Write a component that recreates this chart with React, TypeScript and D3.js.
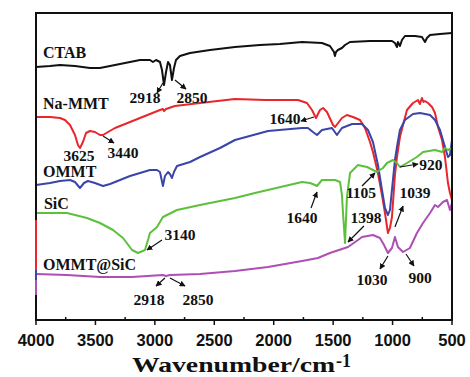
import React from "react";
import * as d3 from "d3";

// wavenumber (cm^-1), transmittance (a.u., offset for stacking)
const ctab: [number, number][] = [
  [4000, 253], [3882, 254], [3798, 255], [3672, 254], [3546, 252], [3462, 252], [3377, 254], [3251, 257],
  [3125, 260], [3041, 260], [3016, 258], [2990, 260], [2957, 258], [2940, 250], [2923, 235], [2906, 248],
  [2889, 258], [2873, 255], [2856, 240], [2839, 252], [2822, 260], [2789, 264], [2704, 267], [2536, 270],
  [2326, 273], [2116, 275], [1948, 276], [1762, 278], [1594, 277], [1527, 274], [1493, 268], [1485, 264],
  [1476, 268], [1460, 270], [1426, 272], [1400, 275], [1358, 278], [1190, 279], [1005, 279], [980, 277],
  [963, 273], [955, 278], [938, 274], [921, 280], [896, 284], [811, 284], [753, 283], [727, 278],
  [711, 282], [685, 285], [601, 286], [500, 287],
];

const naMMT: [number, number][] = [
  [4000, 203], [3882, 203], [3798, 202], [3756, 200], [3714, 195], [3672, 185], [3647, 175], [3630, 172],
  [3605, 178], [3579, 187], [3546, 189], [3504, 188], [3462, 185], [3436, 185], [3394, 188], [3335, 192],
  [3209, 198], [3083, 204], [2957, 210], [2932, 211], [2923, 209], [2906, 211], [2831, 214], [2620, 217],
  [2326, 221], [2073, 220], [1796, 220], [1720, 217], [1678, 210], [1644, 202], [1611, 210], [1585, 212],
  [1552, 208], [1501, 195], [1484, 193], [1426, 202], [1384, 205], [1333, 203], [1274, 200], [1232, 192],
  [1190, 178], [1165, 168], [1123, 147], [1089, 125], [1064, 107], [1039, 87], [1022, 92], [1005, 103],
  [980, 145], [963, 163], [938, 183], [912, 195], [879, 210], [828, 217], [786, 220], [770, 216],
  [753, 222], [740, 218], [727, 219], [702, 217], [668, 213], [643, 207], [618, 193], [584, 180],
  [559, 163], [534, 137], [517, 127], [500, 120],
];

const ommt: [number, number][] = [
  [4000, 135], [3882, 137], [3798, 139], [3714, 140], [3672, 138], [3630, 132], [3596, 137], [3563, 139],
  [3504, 137], [3436, 134], [3377, 136], [3293, 140], [3209, 144], [3125, 147], [3041, 150], [2982, 150],
  [2957, 148], [2932, 134], [2915, 144], [2889, 148], [2873, 146], [2856, 142], [2839, 148], [2814, 154],
  [2704, 158], [2620, 163], [2452, 172], [2326, 180], [2048, 189], [1762, 192], [1712, 192], [1670, 188],
  [1636, 185], [1594, 190], [1510, 192], [1468, 185], [1426, 192], [1341, 196], [1257, 196], [1207, 190],
  [1165, 178], [1123, 155], [1089, 130], [1064, 112], [1039, 105], [1022, 110], [997, 140], [980, 160],
  [963, 173], [938, 190], [896, 200], [828, 206], [769, 207], [685, 205], [643, 200], [601, 190],
  [559, 173], [534, 163], [517, 165], [500, 180],
];

const sic: [number, number][] = [
  [4000, 107], [3739, 107], [3571, 102], [3462, 97], [3352, 90], [3268, 82], [3192, 70], [3142, 67],
  [3083, 70], [3058, 80], [3041, 87], [2982, 93], [2932, 103], [2814, 110], [2620, 115], [2326, 122],
  [2158, 127], [1762, 138], [1695, 137], [1653, 135], [1636, 134], [1594, 140], [1484, 140], [1442, 138],
  [1426, 125], [1417, 107], [1400, 77], [1384, 123], [1358, 147], [1291, 155], [1215, 153], [1131, 148],
  [1081, 152], [1047, 157], [997, 160], [963, 157], [938, 153], [879, 157], [795, 163], [744, 168],
  [643, 170], [584, 168], [559, 172], [534, 170], [500, 172],
];

const ommtSic: [number, number][] = [
  [4000, 46], [3739, 45], [3462, 43], [3192, 43], [2932, 45], [2906, 44], [2873, 45], [2620, 46],
  [2326, 49], [2048, 53], [1762, 59], [1628, 62], [1527, 67], [1375, 73], [1291, 80], [1257, 83],
  [1165, 85], [1106, 82], [1072, 75], [1039, 67], [1005, 72], [980, 83], [955, 73], [912, 68],
  [854, 72], [795, 87], [744, 97], [685, 107], [643, 115], [618, 113], [576, 118], [542, 120],
  [517, 110], [500, 117],
];

const seriesNames = ["CTAB", "Na-MMT", "OMMT", "SiC", "OMMT@SiC"];
const seriesData = [ctab, naMMT, ommt, sic, ommtSic];
const seriesColors = ["#111111", "#e8262b", "#3b45a8", "#5dc03c", "#ad4fb5"];
// series name label anchors, in data coordinates (wavenumber, a.u.)
const seriesLabelPos: [number, number][] = [[3941, 262], [3941, 211], [3941, 143], [3933, 111], [3941, 50]];

const xTicks = [4000, 3500, 3000, 2500, 2000, 1500, 1000, 500];
const xMinorTicks = [3750, 3250, 2750, 2250, 1750, 1250, 750];

// peak annotations: label, label centre (wn, a.u.), arrow from -> to (wn, a.u.)
const peakLabels = ["2918", "2850", "3625", "3440", "1640", "1640", "1398", "1105", "1039", "920", "3140", "1030", "900", "2918", "2850"];
const peakTextPos: [number, number][] = [
  [3083, 217], [2688, 217], [3638, 159], [3268, 162], [1905, 196], [1762, 97], [1224, 97], [1266, 122],
  [811, 122], [677, 150], [2789, 80], [1173, 35], [769, 37], [3049, 15], [2637, 15],
];
const peakArrows: ([number, number, number, number] | null)[] = [
  [2932, 237, 2982, 227], [2831, 240, 2738, 231], null, [3436, 184, 3344, 177], [1661, 203, 1771, 199],
  [1686, 112, 1636, 128], [1241, 94, 1375, 78], [1257, 134, 1148, 147], [980, 93, 912, 114], [938, 153, 786, 156],
  [2940, 80, 3066, 70], [1039, 64, 1106, 51], [887, 66, 820, 54], [2915, 42, 2990, 34], [2873, 42, 2746, 34],
];

export default function App() {
  const W = 470, H = 377;
  const left = 36, right = 452, top = 13, bottom = 320;
  const x = d3.scaleLinear().domain([4000, 500]).range([left, right]);
  const y = d3.scaleLinear().domain([0, 307]).range([bottom, top]);
  const line = d3.line<[number, number]>().x((d) => x(d[0])).y((d) => y(d[1]));

  const serif = "'Liberation Serif', 'Times New Roman', serif";
  const sans = "'Liberation Sans', Arial, sans-serif";

  return (
    <svg width={W} height={H} style={{ position: "absolute", left: 0, top: 0, background: "#fff" }}>
      <defs>
        <marker id="ah" viewBox="0 0 10 10" refX="9" refY="5" markerWidth="5" markerHeight="5" orient="auto">
          <path d="M0,0 L10,5 L0,10 z" fill="#111" />
        </marker>
        <clipPath id="plotclip">
          <rect x={left} y={top} width={right - left} height={bottom - top} />
        </clipPath>
      </defs>

      <g clipPath="url(#plotclip)">
        {seriesData.map((d, i) => (
          <path key={i} d={line(d) || ""} fill="none" stroke={seriesColors[i]} strokeWidth={2} strokeLinejoin="round" />
        ))}
      </g>

      {/* frame */}
      <rect x={left} y={top} width={right - left} height={bottom - top} fill="none" stroke="#111" strokeWidth={2} />
      {/* coloured fragments on left axis */}
      <line x1={left} x2={left} y1={y(100)} y2={y(50)} stroke={seriesColors[1]} strokeWidth={2} />
      <line x1={left} x2={left} y1={y(50)} y2={y(40)} stroke={seriesColors[2]} strokeWidth={2} />
      <line x1={left} x2={left} y1={y(40)} y2={y(25)} stroke={seriesColors[4]} strokeWidth={2} />

      {/* ticks */}
      {xTicks.map((t) => (
        <g key={t}>
          <line x1={x(t)} x2={x(t)} y1={bottom} y2={bottom + 5} stroke="#111" strokeWidth={1.5} />
          <text x={x(t)} y={346} textAnchor="middle" fontFamily={sans} fontWeight="bold" fontSize={16.5} fill="#111">
            {t}
          </text>
        </g>
      ))}
      {xMinorTicks.map((t) => (
        <line key={t} x1={x(t)} x2={x(t)} y1={bottom} y2={bottom - 3} stroke="#111" strokeWidth={1.5} />
      ))}

      {/* axis title */}
      <text x={132} y={372} fontFamily={serif} fontWeight="bold" fontSize={21.5} fill="#111">
        <tspan textLength={203} lengthAdjust="spacingAndGlyphs">Wavenumber/cm</tspan>
        <tspan x={336} y={367} fontSize={18}>-1</tspan>
      </text>

      {/* series labels */}
      {seriesNames.map((n, i) => (
        <text key={n} x={x(seriesLabelPos[i][0])} y={y(seriesLabelPos[i][1])} fontFamily={serif} fontWeight="bold" fontSize={16} fill="#111">
          {n}
        </text>
      ))}

      {/* peak annotations */}
      {peakLabels.map((p, i) => (
        <g key={i}>
          <text x={x(peakTextPos[i][0])} y={y(peakTextPos[i][1])} textAnchor="middle" fontFamily={serif} fontWeight="bold" fontSize={15.5} fill="#111">
            {p}
          </text>
          {peakArrows[i] && (
            <line
              x1={x(peakArrows[i]![0])}
              y1={y(peakArrows[i]![1])}
              x2={x(peakArrows[i]![2])}
              y2={y(peakArrows[i]![3])}
              stroke="#111"
              strokeWidth={1.2}
              markerEnd="url(#ah)"
            />
          )}
        </g>
      ))}
    </svg>
  );
}
